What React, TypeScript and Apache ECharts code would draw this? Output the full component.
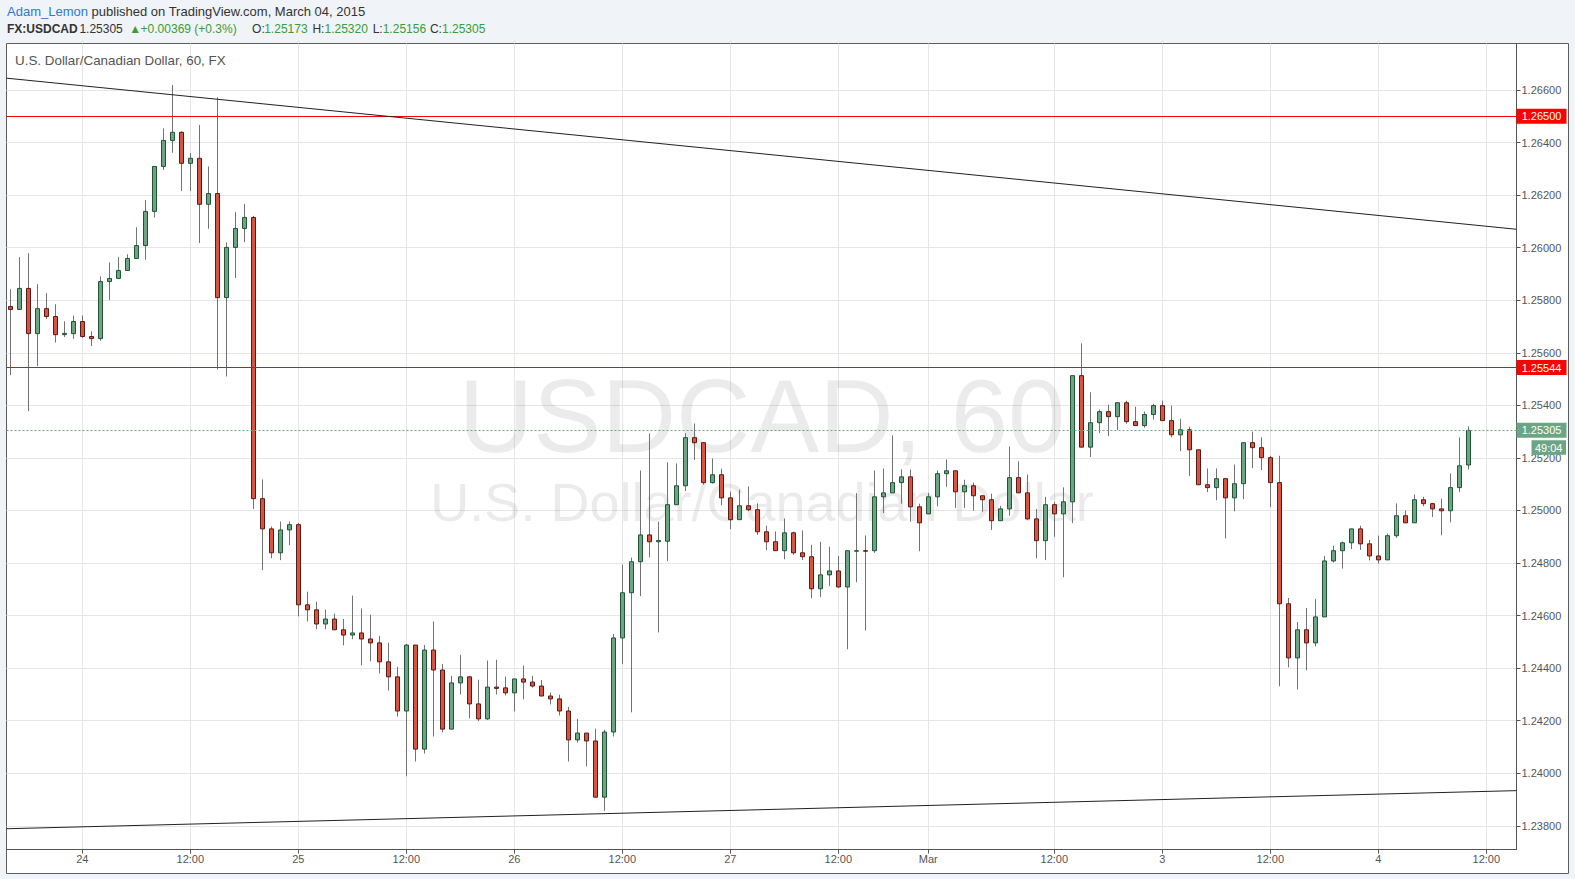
import React, { useEffect, useRef } from 'react';
import * as echarts from 'echarts';

// Hourly bars, Feb 23 16:00 -> Mar 4 10:00 (weekend removed)
const openPrices = [
  1.25776, 1.25765, 1.25845, 1.25673, 1.25768, 1.25738, 1.25669, 1.25673, 1.25719, 1.25662,
  1.25654, 1.25871, 1.25883, 1.25913, 1.25959, 1.26008, 1.26138, 1.26309, 1.26408, 1.26439,
  1.26321, 1.26340, 1.26165, 1.26206, 1.25810, 1.26001, 1.26073, 1.26115, 1.25045, 1.24930,
  1.24839, 1.24926, 1.24946, 1.24641, 1.24622, 1.24568, 1.24587, 1.24546, 1.24526, 1.24534,
  1.24511, 1.24496, 1.24424, 1.24367, 1.24237, 1.24488, 1.24092, 1.24469, 1.24393, 1.24168,
  1.24344, 1.24367, 1.24264, 1.24207, 1.24328, 1.24325, 1.24306, 1.24359, 1.24347, 1.24332,
  1.24294, 1.24283, 1.24237, 1.24127, 1.24153, 1.24123, 1.23909, 1.24157, 1.24515, 1.24687,
  1.24805, 1.24907, 1.24881, 1.24883, 1.25022, 1.25094, 1.25277, 1.25258, 1.25106, 1.25136,
  1.25048, 1.24965, 1.25018, 1.25003, 1.24919, 1.24881, 1.24847, 1.24915, 1.24839, 1.24824,
  1.24702, 1.24755, 1.24770, 1.24709, 1.24845, 1.24847, 1.24847, 1.25052, 1.25067, 1.25106,
  1.25128, 1.25014, 1.24987, 1.25052, 1.25140, 1.25151, 1.25071, 1.25094, 1.25056, 1.25041,
  1.24961, 1.25006, 1.25125, 1.25067, 1.24968, 1.24885, 1.25022, 1.24987, 1.25033, 1.25513,
  1.25241, 1.25334, 1.25376, 1.25357, 1.25410, 1.25338, 1.25323, 1.25365, 1.25399, 1.25342,
  1.25288, 1.25307, 1.25231, 1.25098, 1.25087, 1.25121, 1.25048, 1.25102, 1.25258, 1.25239,
  1.25201, 1.25106, 1.24645, 1.24439, 1.24546, 1.24496, 1.24595, 1.24808, 1.24847, 1.24877,
  1.24930, 1.24873, 1.24827, 1.24812, 1.24904, 1.24980, 1.24953, 1.25041, 1.25026, 1.25006,
  1.24999, 1.25087, 1.25173,
];

const closePrices = [
  1.25765, 1.25845, 1.25673, 1.25768, 1.25738, 1.25669, 1.25674, 1.25719, 1.25662, 1.25654,
  1.25871, 1.25883, 1.25913, 1.25959, 1.26008, 1.26138, 1.26309, 1.26408, 1.26439, 1.26321,
  1.26340, 1.26165, 1.26206, 1.25810, 1.26001, 1.26073, 1.26115, 1.25045, 1.24930, 1.24839,
  1.24926, 1.24946, 1.24641, 1.24622, 1.24568, 1.24587, 1.24546, 1.24526, 1.24534, 1.24511,
  1.24496, 1.24424, 1.24367, 1.24237, 1.24488, 1.24092, 1.24469, 1.24393, 1.24168, 1.24344,
  1.24367, 1.24264, 1.24207, 1.24328, 1.24323, 1.24306, 1.24359, 1.24347, 1.24332, 1.24294,
  1.24283, 1.24237, 1.24127, 1.24153, 1.24123, 1.23909, 1.24157, 1.24515, 1.24687, 1.24805,
  1.24907, 1.24881, 1.24886, 1.25022, 1.25094, 1.25277, 1.25258, 1.25106, 1.25136, 1.25048,
  1.24965, 1.25018, 1.25003, 1.24919, 1.24881, 1.24847, 1.24915, 1.24839, 1.24824, 1.24702,
  1.24755, 1.24770, 1.24709, 1.24847, 1.24847, 1.24845, 1.25052, 1.25067, 1.25106, 1.25128,
  1.25014, 1.24953, 1.25052, 1.25140, 1.25151, 1.25071, 1.25094, 1.25056, 1.25041, 1.24961,
  1.25006, 1.25125, 1.25067, 1.24968, 1.24885, 1.25022, 1.24987, 1.25033, 1.25513, 1.25241,
  1.25334, 1.25376, 1.25357, 1.25410, 1.25338, 1.25323, 1.25365, 1.25399, 1.25342, 1.25288,
  1.25307, 1.25231, 1.25098, 1.25087, 1.25121, 1.25048, 1.25102, 1.25258, 1.25239, 1.25201,
  1.25106, 1.24645, 1.24439, 1.24546, 1.24496, 1.24595, 1.24808, 1.24847, 1.24877, 1.24930,
  1.24873, 1.24827, 1.24812, 1.24904, 1.24980, 1.24953, 1.25041, 1.25026, 1.25006, 1.24999,
  1.25087, 1.25170, 1.25305,
];

const highPrices = [
  1.25842, 1.25964, 1.25979, 1.25861, 1.25827, 1.25785, 1.25720, 1.25742, 1.25742, 1.25682,
  1.25891, 1.25944, 1.25964, 1.25975, 1.26078, 1.26181, 1.26309, 1.26454, 1.26619, 1.26443,
  1.26360, 1.26467, 1.26309, 1.26572, 1.26020, 1.26135, 1.26166, 1.26121, 1.25118, 1.24939,
  1.24958, 1.24958, 1.24952, 1.24691, 1.24653, 1.24623, 1.24608, 1.24587, 1.24676, 1.24627,
  1.24604, 1.24523, 1.24497, 1.24405, 1.24492, 1.24488, 1.24488, 1.24577, 1.24416, 1.24371,
  1.24451, 1.24371, 1.24356, 1.24429, 1.24432, 1.24368, 1.24359, 1.24410, 1.24371, 1.24355,
  1.24307, 1.24299, 1.24253, 1.24207, 1.24153, 1.24170, 1.24166, 1.24530, 1.24794, 1.24821,
  1.25152, 1.25293, 1.24958, 1.25183, 1.25179, 1.25294, 1.25331, 1.25258, 1.25198, 1.25159,
  1.25072, 1.25079, 1.25091, 1.25027, 1.24942, 1.24920, 1.24970, 1.24920, 1.24924, 1.24869,
  1.24881, 1.24862, 1.24827, 1.24847, 1.25066, 1.24905, 1.25152, 1.25160, 1.25286, 1.25156,
  1.25156, 1.25026, 1.25067, 1.25152, 1.25194, 1.25151, 1.25117, 1.25106, 1.25056, 1.25064,
  1.25018, 1.25244, 1.25187, 1.25137, 1.25006, 1.25052, 1.25033, 1.25088, 1.25513, 1.25636,
  1.25450, 1.25384, 1.25403, 1.25410, 1.25418, 1.25395, 1.25376, 1.25406, 1.25418, 1.25399,
  1.25349, 1.25319, 1.25231, 1.25160, 1.25160, 1.25121, 1.25175, 1.25258, 1.25300, 1.25278,
  1.25208, 1.25208, 1.24667, 1.24576, 1.24629, 1.24664, 1.24827, 1.24866, 1.24882, 1.24930,
  1.24942, 1.24888, 1.24904, 1.24912, 1.25027, 1.25000, 1.25061, 1.25052, 1.25029, 1.25045,
  1.25141, 1.25278, 1.25320,
];

const lowPrices = [
  1.25515, 1.25765, 1.25378, 1.25550, 1.25729, 1.25639, 1.25660, 1.25653, 1.25656, 1.25626,
  1.25646, 1.25801, 1.25883, 1.25913, 1.25959, 1.25954, 1.26115, 1.26296, 1.26361, 1.26216,
  1.26216, 1.26018, 1.26072, 1.25537, 1.25510, 1.25885, 1.26021, 1.25005, 1.24773, 1.24818,
  1.24811, 1.24868, 1.24597, 1.24578, 1.24548, 1.24548, 1.24546, 1.24487, 1.24510, 1.24411,
  1.24426, 1.24380, 1.24315, 1.24216, 1.23989, 1.24045, 1.24075, 1.24140, 1.24156, 1.24168,
  1.24300, 1.24209, 1.24199, 1.24203, 1.24300, 1.24296, 1.24235, 1.24281, 1.24326, 1.24294,
  1.24262, 1.24220, 1.24045, 1.24117, 1.24026, 1.23909, 1.23857, 1.24140, 1.24415, 1.24232,
  1.24674, 1.24822, 1.24536, 1.24807, 1.25022, 1.25074, 1.25192, 1.25098, 1.25102, 1.25020,
  1.24929, 1.24965, 1.24997, 1.24907, 1.24849, 1.24847, 1.24814, 1.24831, 1.24812, 1.24666,
  1.24670, 1.24712, 1.24706, 1.24472, 1.24727, 1.24543, 1.24839, 1.24990, 1.25067, 1.25026,
  1.24957, 1.24845, 1.24987, 1.25016, 1.25090, 1.25010, 1.25010, 1.24999, 1.24995, 1.24926,
  1.24961, 1.24980, 1.25067, 1.24965, 1.24818, 1.24811, 1.24900, 1.24746, 1.24952, 1.25241,
  1.25203, 1.25294, 1.25283, 1.25306, 1.25330, 1.25323, 1.25315, 1.25346, 1.25342, 1.25279,
  1.25226, 1.25131, 1.25098, 1.25070, 1.25039, 1.24894, 1.24997, 1.25043, 1.25161, 1.25154,
  1.25013, 1.24331, 1.24403, 1.24319, 1.24392, 1.24483, 1.24595, 1.24802, 1.24779, 1.24853,
  1.24850, 1.24810, 1.24798, 1.24812, 1.24896, 1.24953, 1.24953, 1.25016, 1.24975, 1.24906,
  1.24955, 1.25070, 1.25156,
];

// Time axis labels placed on bar indices
const xTickIndex = [8, 20, 32, 44, 56, 68, 80, 92, 102, 116, 128, 140, 152, 164];
const xTickLabels = ['24', '12:00', '25', '12:00', '26', '12:00', '27', '12:00', 'Mar', '12:00', '3', '12:00', '4', '12:00'];
const yTickValues = [1.238, 1.24, 1.242, 1.244, 1.246, 1.248, 1.25, 1.252, 1.254, 1.256, 1.258, 1.26, 1.262, 1.264, 1.266];

// Drawings
const resistanceLevels = [1.265, 1.25544];
const lastPrice = 1.25305;
const countdownText = '49:04';
const upperTrend = [[-0.422, 1.26645], [167.356, 1.2607]];
const lowerTrend = [[-0.422, 1.23789], [167.356, 1.23934]];

// Header quote line pieces
const quoteParts = [
  { text: 'FX:USDCAD', kind: 'b', x: 7 },
  { text: '1.25305', kind: 'n', x: 79.4 },
  { text: '\u25B2', kind: 'g', x: 129.2 },
  { text: '+0.00369 (+0.3%)', kind: 'g', x: 140.6 },
  { text: 'O:', kind: 'n', x: 252.1 },
  { text: '1.25173', kind: 'g', x: 264.2 },
  { text: 'H:', kind: 'n', x: 312.4 },
  { text: '1.25320', kind: 'g', x: 324.5 },
  { text: 'L:', kind: 'n', x: 372.7 },
  { text: '1.25156', kind: 'g', x: 382.7 },
  { text: 'C:', kind: 'n', x: 429.9 },
  { text: '1.25305', kind: 'g', x: 442 },
];

const X_MIN = -0.422;
const X_MAX = 167.356;
const Y_MIN = 1.2371;
const Y_MAX = 1.267769;

const FONT = "'Liberation Sans', Arial, sans-serif";
const UP = '#6ba583';
const DOWN = '#d75442';
const UP_BORDER = '#225437';
const DOWN_BORDER = '#5b1a13';
const WICK = '#737375';
const RED = '#ff0000';

export default function App() {
  const ref = useRef<HTMLDivElement>(null);

  useEffect(() => {
    const el = ref.current;
    if (!el) return;
    const chart = echarts.init(el, undefined, { renderer: 'svg' });

    const idx = openPrices.map((_, i) => i);
    const wickData = idx.map((i) => [i, openPrices[i], closePrices[i], lowPrices[i], highPrices[i]]);
    const bodyData = idx.map((i) => [
      i,
      openPrices[i],
      closePrices[i],
      Math.min(openPrices[i], closePrices[i]),
      Math.max(openPrices[i], closePrices[i]),
    ]);

    chart.setOption({
      animation: false,
      backgroundColor: '#f0f3f7',
      textStyle: { fontFamily: FONT },
      grid: { left: 6.5, top: 43.5, width: 1510, height: 806, show: false, containLabel: false, outerBoundsMode: 'none' },
      xAxis: {
        type: 'value',
        min: X_MIN,
        max: X_MAX,
        axisLine: { show: true, onZero: false, lineStyle: { color: '#555555', width: 1 } },
        axisTick: { show: true, length: 4, customValues: xTickIndex, lineStyle: { color: '#555555' } },
        axisLabel: {
          customValues: xTickIndex,
          formatter: (v: number) => xTickLabels[xTickIndex.indexOf(Math.round(v))] ?? '',
          color: '#555555',
          fontSize: 11,
          fontFamily: FONT,
          margin: 4,
        },
        splitLine: { show: true, lineStyle: { color: '#e6e6e6', width: 1 } },
      },
      yAxis: {
        type: 'value',
        position: 'right',
        min: Y_MIN,
        max: Y_MAX,
        axisLine: { show: true, onZero: false, lineStyle: { color: '#555555', width: 1 } },
        axisTick: { show: true, length: 4, customValues: yTickValues, lineStyle: { color: '#555555' } },
        axisLabel: {
          customValues: yTickValues,
          formatter: (v: number) => v.toFixed(5),
          color: '#555555',
          fontSize: 11,
          fontFamily: FONT,
          margin: 5,
        },
        splitLine: { show: true, lineStyle: { color: '#e6e6e6', width: 1 } },
      },
      series: [
        {
          type: 'candlestick',
          name: 'wicks',
          data: wickData,
          encode: { x: 0, y: [1, 2, 3, 4] },
          barWidth: 1,
          z: 2,
          silent: true,
          itemStyle: {
            color: WICK,
            color0: WICK,
            borderColor: WICK,
            borderColor0: WICK,
            borderColorDoji: WICK,
            borderWidth: 1,
          },
        },
        {
          type: 'candlestick',
          name: 'USDCAD',
          data: bodyData,
          encode: { x: 0, y: [1, 2, 3, 4] },
          barWidth: 5,
          z: 3,
          silent: true,
          itemStyle: {
            color: UP,
            color0: DOWN,
            borderColor: UP_BORDER,
            borderColor0: DOWN_BORDER,
            borderColorDoji: UP_BORDER,
            borderWidth: 1,
          },
          markLine: {
            silent: true,
            symbol: ['none', 'none'],
            precision: 5,
            label: { show: false },
            z: 5,
            data: [
              ...resistanceLevels.map((v) => ({ yAxis: v, lineStyle: { color: RED, width: 1, type: 'solid' } })),
              { yAxis: lastPrice, lineStyle: { color: UP, width: 1, type: [2, 2] } },
              [
                { coord: upperTrend[0], lineStyle: { color: '#222222', width: 1, type: 'solid' } },
                { coord: upperTrend[1] },
              ],
              [
                { coord: lowerTrend[0], lineStyle: { color: '#222222', width: 1, type: 'solid' } },
                { coord: lowerTrend[1] },
              ],
            ],
          },
        },
      ],
    });

    const py = (v: number) => chart.convertToPixel({ yAxisIndex: 0 }, v) as number;
    const axisX = 1516.5;
    const boxW = 50;

    const priceBoxes: any[] = [];
    resistanceLevels.forEach((v) => {
      const y = py(v);
      priceBoxes.push({
        type: 'rect', z: 20,
        shape: { x: axisX, y: y - 7.5, width: boxW, height: 15 },
        style: { fill: RED },
      });
      priceBoxes.push({
        type: 'text', z: 21, x: axisX + boxW / 2, y,
        style: { text: v.toFixed(5), fill: '#ffffff', font: `11px ${FONT}`, align: 'center', verticalAlign: 'middle' },
      });
    });
    const yl = py(lastPrice);
    priceBoxes.push(
      { type: 'rect', z: 20, shape: { x: axisX, y: yl - 7.5, width: boxW, height: 15 }, style: { fill: UP } },
      {
        type: 'text', z: 21, x: axisX + boxW / 2, y: yl,
        style: { text: lastPrice.toFixed(5), fill: '#ffffff', font: `11px ${FONT}`, align: 'center', verticalAlign: 'middle' },
      },
      { type: 'rect', z: 20, shape: { x: 1531.5, y: yl + 10, width: 34.5, height: 14.5 }, style: { fill: UP } },
      {
        type: 'text', z: 21, x: 1548.7, y: yl + 17.3,
        style: { text: countdownText, fill: '#ffffff', font: `11px ${FONT}`, align: 'center', verticalAlign: 'middle' },
      }
    );

    const quoteColors: Record<string, string> = { b: '#333333', n: '#333333', g: '#3a9d3a' };
    const quoteEls = quoteParts.map((p) => ({
      type: 'text', z: 10, x: p.x, y: 29,
      style: {
        text: p.text,
        fill: quoteColors[p.kind],
        font: `${p.kind === 'b' ? 'bold ' : ''}12px ${FONT}`,
        verticalAlign: 'middle',
      },
    }));

    chart.setOption({
      graphic: {
        elements: [
          {
            type: 'rect', z: -1,
            shape: { x: 6.5, y: 43.5, width: 1562, height: 830 },
            style: { fill: '#ffffff', stroke: '#5d5d5d', lineWidth: 1 },
          },
          {
            type: 'text', z: 0, x: 762, y: 416,
            style: {
              text: 'USDCAD, 60', fill: 'rgba(0,0,0,0.08)',
              font: `103px ${FONT}`, align: 'center', verticalAlign: 'middle',
            },
          },
          {
            type: 'text', z: 0, x: 762, y: 502,
            style: {
              text: 'U.S. Dollar/Canadian Dollar', fill: 'rgba(0,0,0,0.08)',
              font: `54px ${FONT}`, align: 'center', verticalAlign: 'middle',
            },
          },
          {
            type: 'text', z: 10, x: 15, y: 60,
            style: { text: 'U.S. Dollar/Canadian Dollar, 60, FX', fill: '#555555', font: `13.4px ${FONT}`, verticalAlign: 'middle' },
          },
          {
            type: 'text', z: 10, x: 7, y: 11,
            style: {
              text: '{a|Adam_Lemon}{n| published on TradingView.com, March 04, 2015}',
              verticalAlign: 'middle',
              rich: {
                a: { fill: '#2a7bd4', fontSize: 13, fontFamily: FONT },
                n: { fill: '#333333', fontSize: 13, fontFamily: FONT },
              },
            },
          },
          ...quoteEls,
          ...priceBoxes,
        ],
      },
    });

    return () => chart.dispose();
  }, []);

  return <div ref={ref} style={{ position: 'fixed', left: 0, top: 0, width: 1575, height: 879 }} />;
}
